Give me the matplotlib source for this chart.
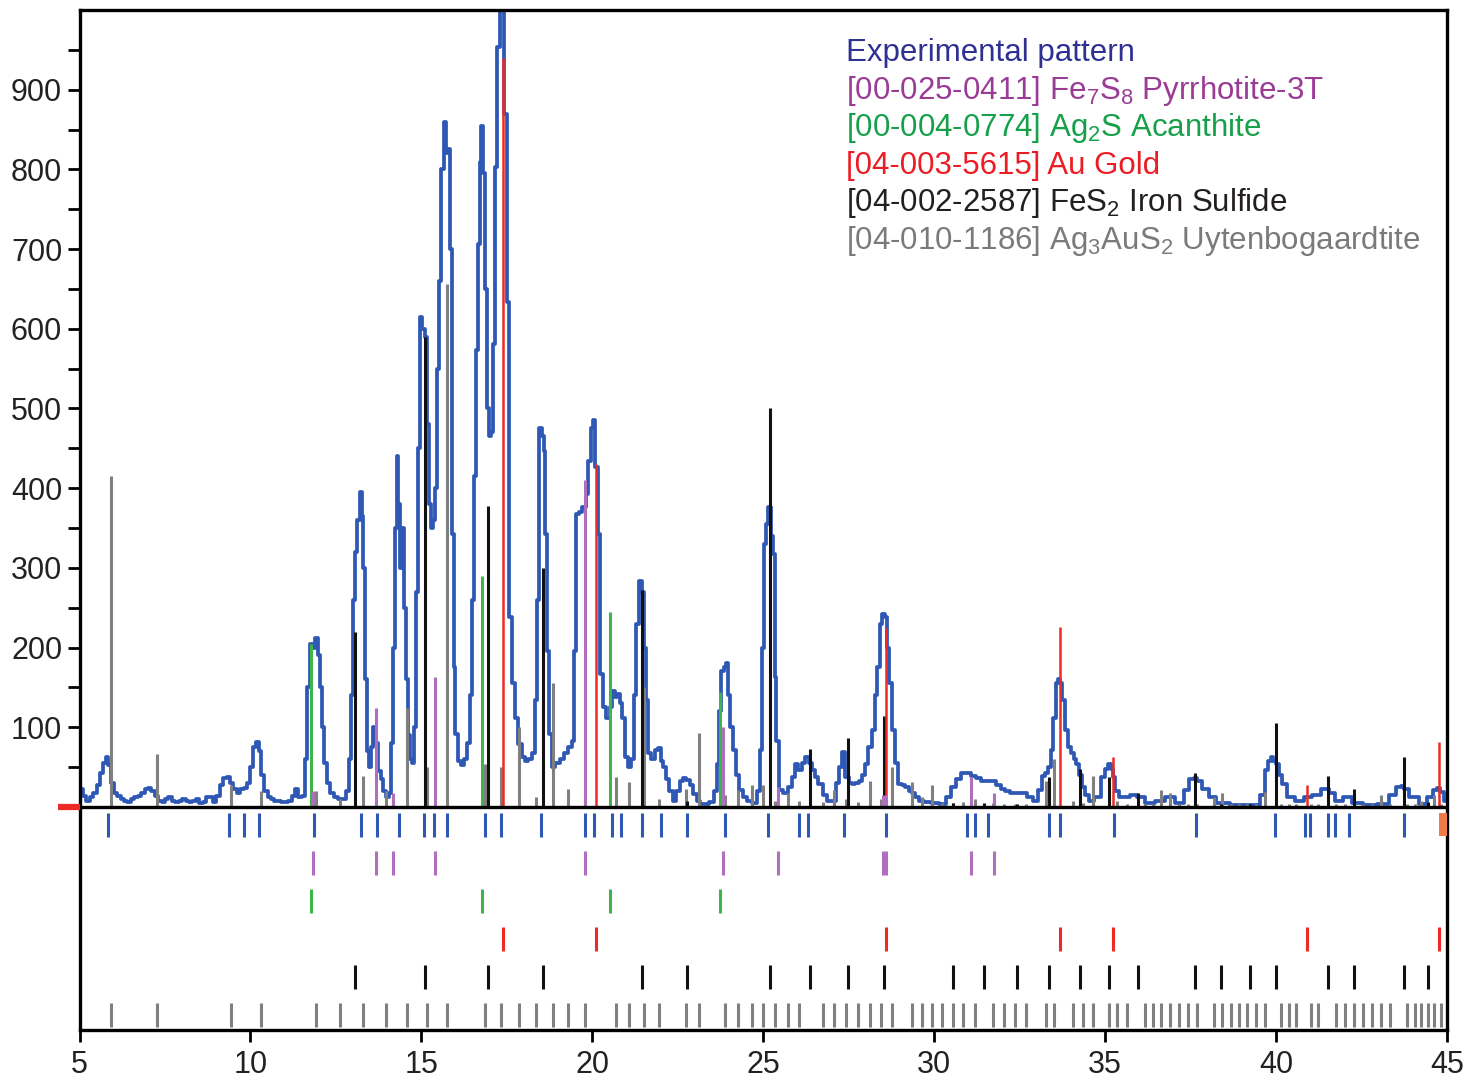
"""
XRD pattern with reference stick patterns for the identified phases.
"""

import matplotlib
matplotlib.use("Agg")
import matplotlib.pyplot as plt

plt.rcParams["font.family"] = ["Liberation Sans", "DejaVu Sans"]
plt.rcParams["mathtext.default"] = "regular"

# experimental profile (2-theta, counts)
exp_two_theta = [
    5.00, 5.08, 5.15, 5.25, 5.35, 5.45, 5.55, 5.65, 5.72, 5.80, 5.88, 5.95, 6.05, 6.15, 6.25,
    6.35, 6.45, 6.55, 6.65, 6.75, 6.85, 6.95, 7.05, 7.15, 7.25, 7.35, 7.45, 7.55, 7.65, 7.75,
    7.85, 7.95, 8.05, 8.15, 8.25, 8.35, 8.45, 8.55, 8.65, 8.75, 8.85, 8.95, 9.05, 9.15, 9.25,
    9.35, 9.45, 9.55, 9.65, 9.75, 9.85, 9.95, 10.05, 10.12, 10.20, 10.27, 10.35, 10.45, 10.55,
    10.65, 10.75, 10.85, 10.95, 11.05, 11.15, 11.25, 11.35, 11.45, 11.55, 11.62, 11.70, 11.78,
    11.86, 11.93, 12.00, 12.06, 12.12, 12.20, 12.28, 12.38, 12.50, 12.62, 12.75, 12.85, 12.92,
    12.98, 13.04, 13.10, 13.16, 13.22, 13.28, 13.33, 13.38, 13.43, 13.50, 13.55, 13.62, 13.70,
    13.78, 13.85, 13.92, 14.00, 14.08, 14.14, 14.20, 14.25, 14.30, 14.35, 14.40, 14.46, 14.52,
    14.58, 14.64, 14.70, 14.76, 14.82, 14.88, 14.94, 15.00, 15.06, 15.12, 15.18, 15.24, 15.30,
    15.36, 15.42, 15.48, 15.55, 15.62, 15.68, 15.74, 15.80, 15.86, 15.92, 15.97, 16.02, 16.10,
    16.20, 16.30, 16.38, 16.45, 16.52, 16.58, 16.63, 16.68, 16.72, 16.78, 16.84, 16.90, 16.95,
    17.00, 17.06, 17.12, 17.18, 17.26, 17.34, 17.40, 17.46, 17.52, 17.60, 17.68, 17.78, 17.88,
    17.98, 18.08, 18.18, 18.27, 18.35, 18.42, 18.48, 18.55, 18.60, 18.64, 18.68, 18.76, 18.86,
    18.98, 19.10, 19.22, 19.34, 19.44, 19.50, 19.56, 19.66, 19.76, 19.84, 19.92, 19.98, 20.05,
    20.12, 20.20, 20.27, 20.36, 20.46, 20.55, 20.62, 20.70, 20.76, 20.84, 20.91, 21.00, 21.10,
    21.18, 21.26, 21.32, 21.40, 21.48, 21.54, 21.60, 21.68, 21.78, 21.88, 21.96, 22.03, 22.12,
    22.20, 22.30, 22.40, 22.50, 22.60, 22.70, 22.80, 22.90, 23.00, 23.10, 23.20, 23.35, 23.50,
    23.60, 23.68, 23.74, 23.80, 23.88, 23.94, 24.00, 24.06, 24.14, 24.24, 24.34, 24.46, 24.60,
    24.75, 24.88, 24.94, 25.00, 25.06, 25.12, 25.18, 25.26, 25.32, 25.36, 25.41, 25.50, 25.65,
    25.80, 25.90, 25.98, 26.08, 26.18, 26.28, 26.38, 26.46, 26.56, 26.67, 26.80, 26.95, 27.08,
    27.18, 27.26, 27.35, 27.45, 27.55, 27.64, 27.74, 27.84, 27.94, 28.03, 28.12, 28.22, 28.30,
    28.37, 28.44, 28.52, 28.60, 28.66, 28.71, 28.80, 28.90, 29.00, 29.10, 29.20, 29.30, 29.40,
    29.50, 29.60, 29.80, 30.00, 30.27, 30.40, 30.56, 30.70, 30.85, 31.00, 31.14, 31.30, 31.44,
    31.60, 31.73, 31.88, 32.02, 32.15, 32.31, 32.45, 32.60, 32.80, 33.00, 33.10, 33.20, 33.30,
    33.38, 33.44, 33.51, 33.59, 33.66, 33.72, 33.78, 33.88, 33.96, 34.03, 34.12, 34.20, 34.28,
    34.37, 34.47, 34.57, 34.80, 34.95, 35.04, 35.12, 35.20, 35.25, 35.35, 35.44, 35.64, 35.83,
    36.03, 36.32, 36.61, 36.90, 37.20, 37.39, 37.54, 37.65, 37.73, 37.93, 38.12, 38.37, 38.95,
    39.44, 39.64, 39.73, 39.80, 39.88, 39.96, 40.03, 40.12, 40.22, 40.42, 40.71, 40.90, 41.20,
    41.44, 41.64, 41.83, 42.07, 42.36, 42.75, 43.14, 43.44, 43.58, 43.70, 43.78, 44.02, 44.32,
    44.51, 44.66, 44.75, 44.85, 45.00,
]
exp_counts = [
    20, 22, 14, 8, 12, 18, 28, 42, 55, 62, 52, 30, 18, 14, 10,
    8, 6, 10, 12, 14, 18, 22, 24, 20, 14, 8, 6, 10, 12, 8,
    6, 8, 10, 8, 6, 8, 10, 5, 6, 12, 12, 6, 14, 28, 36,
    38, 30, 22, 18, 22, 24, 30, 50, 75, 82, 70, 40, 20, 12,
    10, 8, 8, 6, 6, 8, 14, 22, 12, 14, 60, 150, 205,
    200, 212, 190, 150, 100, 55, 30, 18, 12, 10, 10, 20, 60,
    140, 260, 320, 360, 395, 365, 300, 160, 70, 50, 75, 100, 80,
    45, 35, 20, 12, 18, 80, 200, 350, 440, 380, 300, 350, 250,
    160, 90, 60, 55, 100, 270, 450, 615, 600, 590, 480, 380, 350,
    360, 400, 550, 660, 800, 860, 820, 826, 700, 343, 175, 92, 58,
    52, 60, 80, 140, 260, 415, 573, 706, 809, 855, 795, 650, 500,
    465, 470, 581, 803, 953, 1010, 1010, 869, 633, 238, 155, 112, 79,
    62, 58, 60, 67, 134, 259, 476, 465, 447, 343, 196, 92, 50,
    55, 60, 68, 75, 83, 196, 368, 370, 376, 393, 434, 476, 485,
    426, 343, 167, 125, 112, 125, 146, 138, 142, 130, 112, 62, 50,
    60, 140, 230, 284, 270, 200, 134, 67, 60, 71, 74, 58, 50,
    35, 20, 8, 20, 32, 36, 34, 28, 16, 8, 4, 4, 6,
    20, 54, 120, 171, 175, 180, 140, 100, 71, 40, 21, 12, 8,
    5, 20, 71, 200, 330, 355, 376, 340, 317, 163, 83, 21, 17,
    25, 37, 54, 46, 55, 62, 55, 46, 38, 29, 15, 8, 8,
    30, 50, 69, 37, 30, 29, 30, 33, 40, 54, 75, 96, 140,
    175, 229, 242, 238, 200, 155, 96, 55, 29, 27, 25, 20, 17,
    12, 8, 6, 5, 4, 12, 25, 35, 43, 42, 39, 36, 33,
    33, 33, 28, 23, 20, 18, 17, 17, 12, 8, 21, 39, 42,
    50, 71, 112, 155, 161, 155, 134, 96, 75, 67, 60, 54, 40,
    25, 15, 8, 12, 37, 48, 54, 48, 37, 20, 12, 12, 15,
    12, 5, 8, 12, 5, 21, 35, 36, 33, 23, 12, 5, 2,
    2, 15, 46, 58, 62, 58, 54, 40, 29, 12, 8, 12, 15,
    23, 17, 8, 12, 5, 2, 4, 15, 25, 26, 23, 12, 4,
    12, 21, 24, 19, 8,
]

# peak positions found in the experimental pattern
exp_peaks = [5.83, 9.37, 9.81, 10.24, 11.85, 13.24, 13.69, 14.34, 15.07, 15.36, 15.74, 16.85,
             17.34, 18.51, 19.79, 20.06, 20.56, 20.83, 21.45, 22.01, 22.77, 23.89, 25.14,
             26.04, 26.32, 27.36, 28.60, 30.96, 31.20, 31.58, 33.36, 33.69, 35.25, 37.65,
             39.97, 40.84, 41.00, 41.51, 41.72, 42.12, 43.73]

# [00-025-0411] Fe7S8 Pyrrhotite-3T
pyrrhotite_pos = [11.83, 13.68, 14.18, 15.40, 19.79, 23.82, 25.43, 28.50, 28.58, 31.09, 31.74]
pyrrhotite_int = [20, 124, 17, 163, 410, 100, 25, 15, 15, 37, 17]

# [00-004-0774] Ag2S Acanthite
acanthite_pos = [11.78, 16.78, 20.51, 23.72]
acanthite_int = [205, 290, 245, 144]

# [04-003-5615] Au Gold
gold_pos = [17.40, 20.11, 28.59, 33.69, 35.24, 40.91, 44.76]
gold_int = [940, 430, 225, 226, 63, 27, 81]

# [04-002-2587] FeS2 Iron Sulfide
fes2_pos = [13.07, 15.11, 16.94, 18.56, 21.45, 22.77, 25.20, 26.37, 27.48, 28.54, 30.55,
            31.47, 32.42, 33.36, 34.25, 35.12, 35.97, 37.63, 38.40, 39.24, 40.01, 41.51,
            42.28, 43.73, 44.45]
fes2_int = [220, 590, 378, 300, 272, 8, 500, 73, 87, 114, 5,
            5, 4, 37, 48, 37, 18, 42, 4, 3, 105, 39,
            23, 62, 6]

# [04-010-1186] Ag3AuS2 Uytenbogaardtite
uyten_pos = [5.93, 7.26, 9.43, 10.30, 11.91, 12.63, 13.29, 13.96, 14.58, 15.15, 15.74, 16.85,
             17.34, 17.84, 18.35, 18.85, 19.29, 19.79, 20.68, 21.07, 21.50, 21.95, 22.73,
             23.12, 23.89, 24.27, 24.66, 25.00, 25.35, 25.72, 26.04, 26.74, 27.07, 27.42,
             27.76, 28.11, 28.44, 28.76, 29.35, 29.64, 29.94, 30.24, 30.55, 30.85, 31.18,
             31.73, 32.04, 32.36, 32.68, 33.27, 33.51, 34.05, 34.34, 34.64, 35.10, 35.36,
             35.65, 36.17, 36.40, 36.64, 36.90, 37.16, 37.42, 37.68, 38.17, 38.43, 38.69,
             38.91, 39.15, 39.41, 39.67, 40.13, 40.39, 40.58, 41.01, 41.23, 41.76, 42.02,
             42.28, 42.54, 42.80, 43.06, 43.32, 43.82, 44.05, 44.24, 44.44, 44.63, 44.83]
uyten_int = [415, 66, 28, 20, 20, 10, 39, 20, 124, 50, 656, 54,
             50, 100, 12, 155, 23, 10, 37, 31, 150, 10, 23,
             93, 15, 21, 27, 27, 8, 17, 8, 6, 21, 10,
             6, 33, 10, 50, 31, 12, 27, 5, 5, 6, 10,
             5, 4, 4, 4, 33, 60, 8, 5, 39, 4, 8,
             4, 4, 4, 21, 17, 4, 4, 4, 12, 17, 4,
             4, 4, 4, 19, 4, 4, 4, 4, 4, 4, 4,
             4, 4, 4, 15, 4, 4, 4, 8, 4, 15, 4]

legend_labels = [
    "Experimental pattern",
    "[00-025-0411] Fe$_7$S$_8$ Pyrrhotite-3T",
    "[00-004-0774] Ag$_2$S Acanthite",
    "[04-003-5615] Au Gold",
    "[04-002-2587] FeS$_2$ Iron Sulfide",
    "[04-010-1186] Ag$_3$AuS$_2$ Uytenbogaardtite",
]
legend_colors = ["#2E3192", "#9A3C96", "#17A04A", "#ED1C24", "#231F20", "#7A7A7A"]

BLUE = "#2F58B4"
PURPLE = "#B06EBE"
GREEN = "#3DB54A"
RED = "#EE2A24"
BLACK = "#111111"
GRAY = "#808080"

fig = plt.figure(figsize=(14.68, 10.84), dpi=100)
ax = fig.add_axes([0.0542, 0.0498, 0.9315, 0.941])

# experimental pattern
ax.plot(exp_two_theta, exp_counts, color=BLUE, linewidth=2.7, drawstyle="steps-mid", zorder=2)

# stick patterns
sticks = [
    (uyten_pos, uyten_int, GRAY, 2.2),
    (fes2_pos, fes2_int, BLACK, 2.2),
    (gold_pos, gold_int, RED, 1.8),
    (acanthite_pos, acanthite_int, GREEN, 2.2),
    (pyrrhotite_pos, pyrrhotite_int, PURPLE, 2.2),
]
for pos, inten, col, lw in sticks:
    ax.vlines(pos, 0, inten, colors=col, linewidth=lw, zorder=3)

# zero line
ax.axhline(0, color="black", linewidth=2.4, zorder=4)
ax.plot([4.38, 5.0], [0, 0], color=RED, linewidth=4.5, clip_on=False, zorder=5,
        solid_capstyle="butt")

# tick rows below the pattern
rows = [
    (exp_peaks, BLUE),
    (pyrrhotite_pos, PURPLE),
    (acanthite_pos, GREEN),
    (gold_pos, RED),
    (fes2_pos, BLACK),
    (uyten_pos, GRAY),
]
for i, (pos, col) in enumerate(rows):
    top = -8 - 47.6 * i
    ax.vlines(pos, top - 30, top, colors=col, linewidth=2.2)
ax.bar(44.88, 29, width=0.25, bottom=-37, color="#F07B4A", zorder=3)

ax.set_xlim(5, 45)
ax.set_ylim(-280, 1000)

ax.set_xticks(range(5, 50, 5))
ax.set_yticks(range(50, 1000, 50))
ax.set_yticklabels([str(v) if v % 100 == 0 else "" for v in range(50, 1000, 50)])
ax.tick_params(axis="both", direction="out", length=8.5, width=2, labelsize=22,
               colors="black", labelcolor="#222222")
ax.tick_params(axis="x", pad=6)
ax.tick_params(axis="y", pad=4)

for sp in ax.spines.values():
    sp.set_linewidth(2.4)

# legend as coloured text
for i, (lab, col) in enumerate(zip(legend_labels, legend_colors)):
    base_px = 61 + 37.6 * i
    fig.text(846 / 1468, 1 - base_px / 1084, lab, color=col, fontsize=22.5,
             ha="left", va="baseline")

fig.savefig("out.png", dpi=100)
